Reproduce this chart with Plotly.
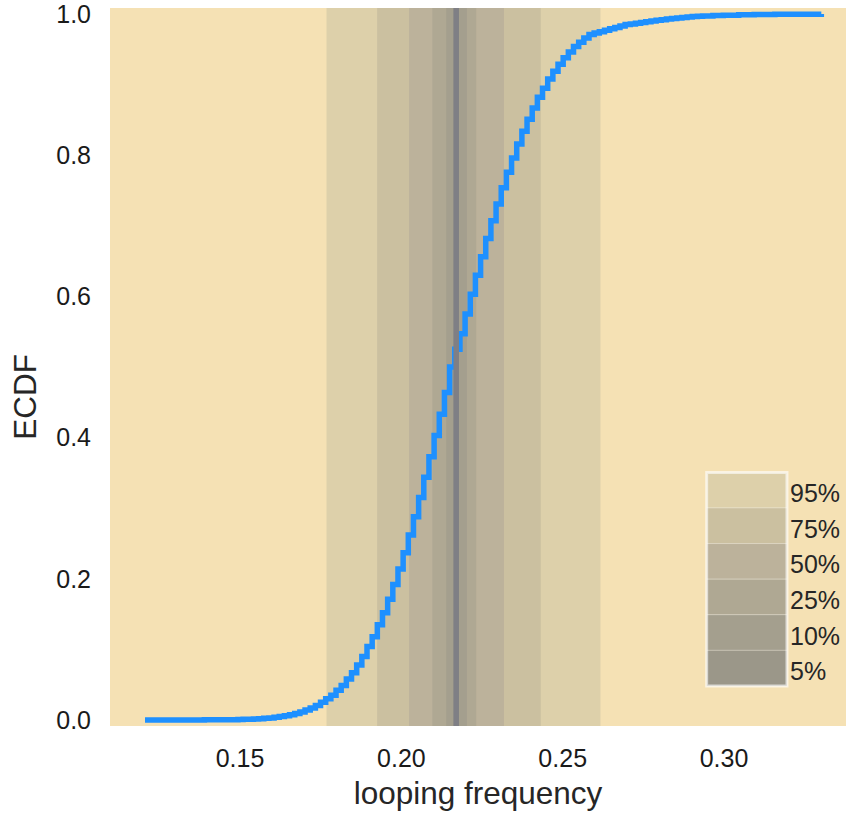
import plotly.graph_objects as go

# ---- data ----
freq = [
    0.12055, 0.13415, 0.13895, 0.14135, 0.14295, 0.14455, 0.14615, 0.14775, 0.14935,
    0.15095, 0.15255, 0.15415, 0.15575, 0.15735, 0.15895, 0.16055, 0.16215, 0.16375,
    0.16535, 0.16695, 0.16855, 0.17015, 0.17175, 0.17335, 0.17495, 0.17655, 0.17815,
    0.17975, 0.18135, 0.18295, 0.18455, 0.18615, 0.18775, 0.18935, 0.19095, 0.19255,
    0.19415, 0.19575, 0.19735, 0.19895, 0.20055, 0.20215, 0.20375, 0.20535, 0.20695,
    0.20855, 0.21015, 0.21175, 0.21335, 0.21495, 0.21655, 0.21815, 0.21975, 0.22135,
    0.22295, 0.22455, 0.22615, 0.22775, 0.22935, 0.23095, 0.23255, 0.23415, 0.23575,
    0.23735, 0.23895, 0.24055, 0.24215, 0.24375, 0.24535, 0.24695, 0.24855, 0.25015,
    0.25175, 0.25335, 0.25495, 0.25655, 0.25815, 0.25975, 0.26135, 0.26295, 0.26455,
    0.26615, 0.26775, 0.26935, 0.27095, 0.27255, 0.27415, 0.27575, 0.27735, 0.27895,
    0.28055, 0.28215, 0.28375, 0.28535, 0.28695, 0.28855, 0.29015, 0.29175, 0.29335,
    0.29655, 0.29975, 0.30455, 0.30935, 0.31575, 0.32215, 0.33015,
]
ecdf = [
    0.0001, 0.0001, 0.0002, 0.0002, 0.0002, 0.0003, 0.0004, 0.0005, 0.0007,
    0.0009, 0.0011, 0.0015, 0.0019, 0.0024, 0.0030, 0.0038, 0.0048, 0.0060,
    0.0075, 0.0093, 0.0114, 0.0140, 0.0170, 0.0206, 0.025, 0.030, 0.035,
    0.042, 0.049, 0.058, 0.067, 0.078, 0.090, 0.104, 0.118, 0.135,
    0.152, 0.171, 0.192, 0.214, 0.237, 0.262, 0.288, 0.315, 0.344,
    0.373, 0.403, 0.433, 0.464, 0.500, 0.525, 0.547, 0.575, 0.603,
    0.630, 0.656, 0.682, 0.707, 0.731, 0.754, 0.776, 0.796, 0.816,
    0.834, 0.851, 0.867, 0.882, 0.895, 0.908, 0.919, 0.929, 0.938,
    0.946, 0.954, 0.960, 0.966, 0.971, 0.973, 0.975, 0.977, 0.979,
    0.981, 0.983, 0.985, 0.986, 0.987, 0.988, 0.989, 0.990, 0.991,
    0.992, 0.993, 0.9938, 0.9945, 0.9952, 0.9958, 0.9963, 0.9968, 0.9972,
    0.9978, 0.9983, 0.9988, 0.9992, 0.9995, 0.9998, 1.0,
]

median_freq = 0.2170
band_labels = ["95%", "75%", "50%", "25%", "10%", "5%"]
band_lo = [0.1768, 0.1925, 0.2024, 0.2096, 0.2139, 0.2161]
band_hi = [0.2617, 0.2432, 0.2318, 0.2232, 0.2203, 0.2176]
band_colors = ["#DDD0AA", "#CBC0A0", "#BCB29B", "#AFA893", "#A49F8E", "#9B9789"]

x_ticks = [0.15, 0.20, 0.25, 0.30]
x_tick_text = ["0.15", "0.20", "0.25", "0.30"]
y_ticks = [0.0, 0.2, 0.4, 0.6, 0.8, 1.0]
y_tick_text = ["0.0", "0.2", "0.4", "0.6", "0.8", "1.0"]

FONT = "Liberation Sans, Arial, sans-serif"

fig = go.Figure()

fig.add_trace(go.Scatter(
    x=freq, y=ecdf, mode="lines",
    line=dict(color="#1E90FF", width=5.5, shape="hv"),
    showlegend=False, hoverinfo="skip",
))

shapes = []
for lo, hi, col in zip(band_lo, band_hi, band_colors):
    shapes.append(dict(type="rect", xref="x", yref="paper", x0=lo, x1=hi, y0=0, y1=1,
                       fillcolor=col, line=dict(width=0), layer="below"))
shapes.append(dict(type="line", xref="x", yref="paper", x0=median_freq, x1=median_freq,
                   y0=0, y1=1, line=dict(color="#7F7F85", width=5.5), layer="above"))

# legend (paper coordinates)
lx0, lx1 = 0.8107, 0.9198
ly_top, ly_bot = 0.3532, 0.0558
n = len(band_labels)
h = (ly_top - ly_bot) / n
annotations = []
for i, (lab, col) in enumerate(zip(band_labels, band_colors)):
    y1 = ly_top - i * h
    y0 = y1 - h
    shapes.append(dict(type="rect", xref="paper", yref="paper", x0=lx0, x1=lx1, y0=y0, y1=y1,
                       fillcolor=col, line=dict(color="rgba(255,255,255,0.25)", width=1),
                       layer="above"))
    annotations.append(dict(xref="paper", yref="paper", x=lx1 + 0.001, y=(y0 + y1) / 2,
                            text=lab, showarrow=False, xanchor="left", yanchor="middle",
                            yshift=-3, font=dict(family=FONT, size=25, color="#262626")))
shapes.append(dict(type="rect", xref="paper", yref="paper", x0=lx0, x1=lx1, y0=ly_bot, y1=ly_top,
                   fillcolor="rgba(0,0,0,0)", line=dict(color="rgba(255,255,255,0.6)", width=3),
                   layer="above"))

# y-axis title (placed slightly below the plot centre, as in the reference)
annotations.append(dict(xref="paper", yref="paper", x=-0.1155, y=0.4585, text="ECDF",
                        textangle=-90, showarrow=False, xanchor="center", yanchor="middle",
                        font=dict(family=FONT, size=31.5, color="#262626")))

fig.update_layout(
    width=846, height=815,
    margin=dict(l=110, r=0, t=4, b=89),
    paper_bgcolor="white",
    plot_bgcolor="#F5E1B4",
    shapes=shapes,
    annotations=annotations,
    font=dict(family=FONT, color="#1a1a1a"),
    xaxis=dict(
        range=[0.1097, 0.3378], showgrid=False, zeroline=False, showline=False,
        tickmode="array", tickvals=x_ticks, ticktext=x_tick_text,
        tickfont=dict(family=FONT, size=25, color="#1a1a1a"),
        ticks="", ticklabelstandoff=15, ticklabeloverflow="allow",
        title=dict(text="looping frequency", font=dict(family=FONT, size=31.5, color="#262626"),
                   standoff=10),
    ),
    yaxis=dict(
        range=[-0.0085, 1.0085], showgrid=False, zeroline=False, showline=False,
        tickmode="array", tickvals=y_ticks, ticktext=y_tick_text,
        tickfont=dict(family=FONT, size=25, color="#1a1a1a"),
        ticks="", ticklabelstandoff=18, ticklabeloverflow="allow",
    ),
)

fig.write_html("out.html")
